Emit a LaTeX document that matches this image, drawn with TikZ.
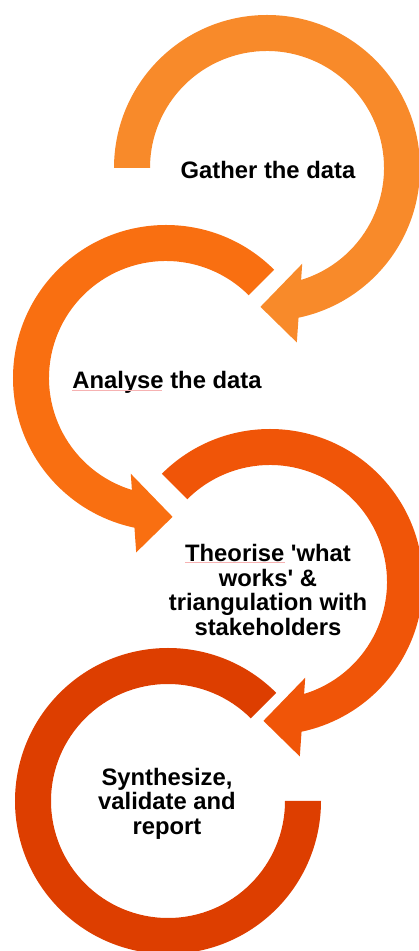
\documentclass[tikz,border=0pt]{standalone}
\usepackage{fontspec}
\setmainfont{Liberation Sans}[Ligatures=TeXOff]
\definecolor{cA}{RGB}{248,138,42}
\definecolor{cB}{RGB}{249,111,17}
\definecolor{cC}{RGB}{240,85,8}
\definecolor{cD}{RGB}{221,62,0}
\definecolor{spell}{RGB}{246,178,178}
\tikzset{
  lbl/.style={inner sep=0pt, font=\bfseries\fontsize{23.8pt}{24.5pt}\selectfont, text=black, align=center},
  squig/.style={draw=spell, line width=0.6pt}
}
\begin{document}
\begin{tikzpicture}[x=1pt,y=1pt]
\useasboundingbox (0,0) rectangle (419,951);
\clip (0,0) rectangle (419,951);
% circle 1 : clockwise, starts at 180
\begin{scope}[shift={(267,783)}]
\fill[cA] (180:117pt) -- (180:153pt) arc[start angle=180, end angle=-78.1, radius=153pt]
  -- (-80.3:177pt) -- (-92.7:139pt) -- (-69.8:102pt) -- (-73.05:117pt)
  arc[start angle=-73.05, end angle=180, radius=117pt] -- cycle;
\end{scope}
% circle 2 : counter-clockwise, starts at 45
\begin{scope}[shift={(166,573)}]
\fill[cB] (45:117pt) -- (45:153pt) arc[start angle=45, end angle=258.1, radius=153pt]
  -- (260.3:177pt) -- (272.7:139pt) -- (249.8:102pt) -- (253.05:117pt)
  arc[start angle=253.05, end angle=45, radius=117pt] -- cycle;
\end{scope}
% circle 3 : clockwise, starts at 135
\begin{scope}[shift={(270,369)}]
\fill[cC] (135:117pt) -- (135:153pt) arc[start angle=135, end angle=-78.1, radius=153pt]
  -- (-80.3:177pt) -- (-92.7:139pt) -- (-69.8:102pt) -- (-73.05:117pt)
  arc[start angle=-73.05, end angle=135, radius=117pt] -- cycle;
\end{scope}
% circle 4 : counter-clockwise, 45 to 360
\begin{scope}[shift={(168,150)}]
\fill[cD] (45:117pt) -- (45:153pt) arc[start angle=45, end angle=360, radius=153pt]
  -- (0:117pt) arc[start angle=360, end angle=45, radius=117pt] -- cycle;
\end{scope}
% labels
\node[lbl, anchor=base] (gather) at (268,772.5) {Gather the data};
\node[lbl, anchor=base] (analyse) at (167,562.7) {Analyse the data};
\node[lbl, anchor=north] (theorise) at (268,406.7) {Theorise 'what\\works' \&\\triangulation with\\stakeholders};
\node[lbl, anchor=north] (synth) at (167,183.4) {Synthesize,\\validate and\\report};
% spell-check underlines
\draw[squig] (72,561) -- (162,561);
\draw[squig] (185,388.3) -- (285,388.3);
\end{tikzpicture}
\end{document}
